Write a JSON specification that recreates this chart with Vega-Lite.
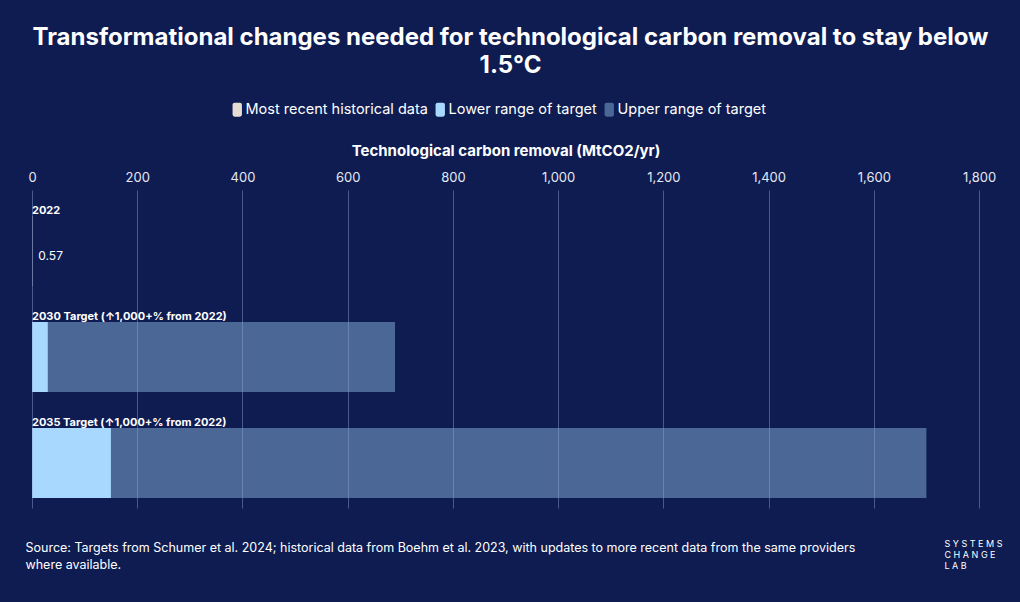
{
  "$schema": "https://vega.github.io/schema/vega-lite/v6.json",
  "width": 947,
  "height": 318,
  "autosize": {"type": "none"},
  "padding": {"left": 32, "top": 190, "right": 41, "bottom": 94},
  "background": "#0e1c52",
  "title": {
    "text": ["Transformational changes needed for technological carbon removal to stay below", "1.5°C"],
    "color": "#ffffff",
    "font": "Inter",
    "fontSize": 24,
    "fontWeight": "bold",
    "lineHeight": 28,
    "anchor": "middle",
    "frame": "group",
    "offset": 10,
    "dx": 5,
    "dy": -14
  },
  "config": {
    "view": {"stroke": null},
    "font": "Inter",
    "text": {"font": "Inter"}
  },
  "datasets": {
    "bars": [
      {"row": "2022", "series": "Most recent historical data", "start": 0, "end": 0.57},
      {"row": "2030", "series": "Upper range of target", "start": 0, "end": 690},
      {"row": "2030", "series": "Lower range of target", "start": 0, "end": 30},
      {"row": "2035", "series": "Upper range of target", "start": 0, "end": 1700},
      {"row": "2035", "series": "Lower range of target", "start": 0, "end": 150}
    ],
    "rows": [
      {"row": "2022", "label": "2022"},
      {"row": "2030", "label": "2030 Target (↑1,000+% from 2022)"},
      {"row": "2035", "label": "2035 Target (↑1,000+% from 2022)"}
    ],
    "values": [
      {"row": "2022", "value": 0.57, "text": "0.57"}
    ]
  },
  "resolve": {"axis": {"x": "independent", "y": "independent"}},
  "layer": [
    {
      "data": {"name": "bars"},
      "mark": {"type": "bar", "height": 70, "yOffset": 8},
      "encoding": {
        "y": {
          "field": "row", "type": "nominal", "sort": ["2022", "2030", "2035"],
          "scale": {"paddingInner": 0, "paddingOuter": 0},
          "axis": {
            "orient": "right", "labels": false, "ticks": false, "domain": false, "grid": false,
            "title": ["S Y S T E M S", "C H A N G E", "L A B"],
            "titleAngle": 0, "titleAlign": "left", "titleBaseline": "top",
            "titleX": -35, "titleY": 349, "titleColor": "#ffffff",
            "titleFont": "Inter", "titleFontSize": 9, "titleFontWeight": "normal", "titleLineHeight": 11
          }
        },
        "x": {
          "field": "start", "type": "quantitative",
          "scale": {"domain": [0, 1800], "nice": false},
          "axis": {
            "orient": "top", "values": [0, 200, 400, 600, 800, 1000, 1200, 1400, 1600, 1800],
            "format": ",d", "domain": false, "ticks": false, "grid": true, "zindex": 1,
            "gridColor": "#8fa3d6", "gridOpacity": 0.45, "gridWidth": 1,
            "labelColor": "#e6e8f0", "labelFont": "Inter", "labelFontSize": 13, "labelPadding": 6,
            "labelFlush": false,
            "title": "Technological carbon removal (MtCO2/yr)",
            "titleColor": "#ffffff", "titleFont": "Inter", "titleFontSize": 15, "titleFontWeight": "bold",
            "titlePadding": 13
          }
        },
        "x2": {"field": "end"},
        "color": {
          "field": "series", "type": "nominal",
          "scale": {
            "domain": ["Most recent historical data", "Lower range of target", "Upper range of target"],
            "range": ["#e6dcd3", "#a9d8ff", "#4a6796"]
          },
          "legend": {
            "title": null, "orient": "none", "direction": "horizontal",
            "legendX": 198, "legendY": -88,
            "labelColor": "#ffffff", "labelFont": "Inter", "labelFontSize": 14.5, "labelLimit": 400,
            "symbolType": "M-0.67,-0.7Q-0.67,-1 -0.37,-1H0.37Q0.67,-1 0.67,-0.7V0.7Q0.67,1 0.37,1H-0.37Q-0.67,1 -0.67,0.7Z",
            "symbolSize": 196, "symbolStrokeWidth": 0,
            "symbolOpacity": 1, "labelOffset": 1, "columnPadding": 5
          }
        },
        "order": {"field": "end", "sort": "descending"}
      }
    },
    {
      "data": {"name": "rows"},
      "mark": {"type": "text", "align": "left", "baseline": "middle", "yOffset": -32, "fontWeight": "bold", "fontSize": 11, "color": "#ffffff"},
      "encoding": {
        "y": {"field": "row", "type": "nominal", "sort": ["2022", "2030", "2035"], "axis": null},
        "x": {
          "datum": 0, "type": "quantitative",
          "axis": {
            "orient": "bottom", "labels": false, "ticks": false, "domain": false, "grid": false,
            "title": ["Source: Targets from Schumer et al. 2024; historical data from Boehm et al. 2023, with updates to more recent data from the same providers", "where available."],
            "titleAnchor": "start", "titleAlign": "left", "titleBaseline": "middle",
            "titleX": -7, "titleY": 39, "titleColor": "#ffffff", "titleFont": "Inter",
            "titleFontSize": 12.5, "titleFontWeight": "normal", "titleLineHeight": 17
          }
        },
        "text": {"field": "label"}
      }
    },
    {
      "data": {"name": "values"},
      "mark": {"type": "text", "align": "left", "baseline": "middle", "yOffset": 13, "dx": 6, "fontSize": 12, "color": "#ffffff"},
      "encoding": {
        "y": {"field": "row", "type": "nominal", "sort": ["2022", "2030", "2035"], "axis": null},
        "x": {"field": "value", "type": "quantitative", "axis": null},
        "text": {"field": "text"}
      }
    }
  ]
}
